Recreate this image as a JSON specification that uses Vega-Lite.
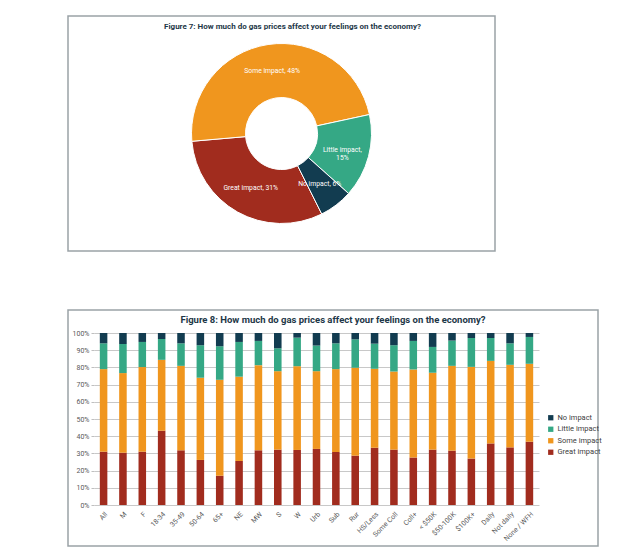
{
  "$schema": "https://vega.github.io/schema/vega-lite/v6.json",
  "background": "white",
  "padding": {"left": 67, "top": 15, "right": 0, "bottom": 0},
  "spacing": 57,
  "resolve": {"scale": {"color": "independent"}, "legend": {"color": "independent"}},
  "datasets": {
    "impacts": [
      {"impact": "Great impact", "rank": 1},
      {"impact": "Some impact", "rank": 2},
      {"impact": "Little impact", "rank": 3},
      {"impact": "No impact", "rank": 4}
    ]
  },
  "config": {
    "font": "Roboto, sans-serif",
    "view": {"stroke": "#9aa2a6", "strokeWidth": 1.5},
    "title": {"color": "#1d3747", "fontWeight": "bold", "anchor": "middle", "baseline": "bottom"}
  },
  "vconcat": [
    {
      "width": 427,
      "height": 235,
      "view": {"stroke": "#9aa2a6", "strokeWidth": 1.5},
      "title": {"text": "Figure 7: How much do gas prices affect your feelings on the economy?", "fontSize": 8, "offset": -15, "dx": 11},
      "data": {"values": [
        {"impact": "Great impact", "rank": 1, "pct": 31, "label": "Great impact, 31%"},
        {"impact": "Some impact", "rank": 2, "pct": 48, "label": "Some impact, 48%"},
        {"impact": "Little impact", "rank": 3, "pct": 15, "label": "Little impact,\n15%"},
        {"impact": "No impact", "rank": 4, "pct": 6, "label": "No impact, 6%"}
      ]},
      "encoding": {
        "theta": {"field": "pct", "type": "quantitative", "stack": true, "scale": {"range": [2.678, 8.961]}},
        "order": {"field": "rank", "type": "quantitative", "sort": "ascending"},
        "color": {"field": "impact", "type": "nominal", "legend": null,
          "scale": {"domain": ["Great impact", "Some impact", "Little impact", "No impact"], "range": ["#a12c1e", "#f0961e", "#35a885", "#123c50"]}}
      },
      "layer": [
        {"mark": {"type": "arc", "outerRadius": 90, "innerRadius": 36, "stroke": "white", "strokeWidth": 1}},
        {"mark": {"type": "text", "radius": 63, "color": "white", "fontSize": 6.8, "lineBreak": "\n", "align": "center", "baseline": "middle"},
         "encoding": {"text": {"field": "label"}, "color": {"value": "white"}}}
      ]
    },
    {
      "width": 530,
      "height": 236,
      "title": {"text": "Figure 8: How much do gas prices affect your feelings on the economy?", "fontSize": 9.5, "offset": -14},
      "data": {"values": [
        {"group": "All", "Great impact": 31, "Some impact": 48, "Little impact": 15, "No impact": 6},
        {"group": "M", "Great impact": 30.4, "Some impact": 46.3, "Little impact": 16.9, "No impact": 6.4},
        {"group": "F", "Great impact": 31.0, "Some impact": 49.2, "Little impact": 14.6, "No impact": 5.2},
        {"group": "18-34", "Great impact": 43.2, "Some impact": 41.2, "Little impact": 12.1, "No impact": 3.5},
        {"group": "35-49", "Great impact": 31.8, "Some impact": 49.1, "Little impact": 13.1, "No impact": 6.0},
        {"group": "50-64", "Great impact": 26.2, "Some impact": 47.8, "Little impact": 18.9, "No impact": 7.1},
        {"group": "65+", "Great impact": 17.0, "Some impact": 55.8, "Little impact": 19.5, "No impact": 7.7},
        {"group": "NE", "Great impact": 25.6, "Some impact": 49.0, "Little impact": 20.2, "No impact": 5.2},
        {"group": "MW", "Great impact": 31.8, "Some impact": 49.5, "Little impact": 14.1, "No impact": 4.6},
        {"group": "S", "Great impact": 32.2, "Some impact": 45.6, "Little impact": 13.3, "No impact": 8.9},
        {"group": "W", "Great impact": 32.0, "Some impact": 48.7, "Little impact": 16.6, "No impact": 2.7},
        {"group": "Urb", "Great impact": 32.6, "Some impact": 45.2, "Little impact": 14.9, "No impact": 7.3},
        {"group": "Sub", "Great impact": 30.8, "Some impact": 48.2, "Little impact": 15.0, "No impact": 6.0},
        {"group": "Rur", "Great impact": 28.7, "Some impact": 51.1, "Little impact": 16.5, "No impact": 3.7},
        {"group": "HS/Less", "Great impact": 33.3, "Some impact": 45.9, "Little impact": 14.6, "No impact": 6.2},
        {"group": "Some Coll", "Great impact": 32.2, "Some impact": 45.4, "Little impact": 15.3, "No impact": 7.1},
        {"group": "Coll+", "Great impact": 27.6, "Some impact": 51.2, "Little impact": 16.6, "No impact": 4.6},
        {"group": "< $50K", "Great impact": 32.2, "Some impact": 44.7, "Little impact": 15.0, "No impact": 8.1},
        {"group": "$50-100K", "Great impact": 31.6, "Some impact": 49.3, "Little impact": 14.7, "No impact": 4.4},
        {"group": "$100K+", "Great impact": 27.0, "Some impact": 53.3, "Little impact": 16.8, "No impact": 2.9},
        {"group": "Daily", "Great impact": 35.8, "Some impact": 48.0, "Little impact": 13.3, "No impact": 2.9},
        {"group": "Not daily", "Great impact": 33.5, "Some impact": 48.0, "Little impact": 12.5, "No impact": 6.0},
        {"group": "None / WFH", "Great impact": 36.8, "Some impact": 45.3, "Little impact": 15.6, "No impact": 2.3}
      ]},
      "transform": [
        {"fold": ["Great impact", "Some impact", "Little impact", "No impact"], "as": ["impact", "pct"]},
        {"lookup": "impact", "from": {"data": {"name": "impacts"}, "key": "impact", "fields": ["rank"]}}
      ],
      "mark": {"type": "bar"},
      "encoding": {
        "x": {"field": "group", "type": "nominal", "sort": null,
          "scale": {"range": [26, 471], "paddingInner": 0.61, "paddingOuter": 0.3},
          "axis": {"title": null, "labelAngle": -45, "labelAlign": "right", "labelBaseline": "top", "labelFontSize": 7, "labelColor": "#595959", "ticks": false, "domain": false, "labelPadding": 5, "offset": -41, "grid": false}},
        "y": {"field": "pct", "type": "quantitative", "stack": "normalize",
          "scale": {"range": [195, 23], "domain": [0, 1]},
          "axis": {"title": null, "format": ".0%", "values": [0, 0.1, 0.2, 0.3, 0.4, 0.5, 0.6, 0.7, 0.8, 0.9, 1], "labelFontSize": 7, "labelColor": "#595959", "domain": false, "ticks": true, "tickSize": 3, "tickColor": "#bfbfbf", "labelPadding": 2, "offset": -26, "grid": true, "gridColor": "#c8c8c8", "gridWidth": 1}},
        "order": {"field": "rank", "type": "quantitative", "sort": "ascending"},
        "color": {"field": "impact", "type": "nominal",
          "sort": ["No impact", "Little impact", "Some impact", "Great impact"],
          "scale": {"range": ["#123c50", "#35a885", "#f0961e", "#a12c1e"]},
          "legend": {"title": null, "orient": "none", "legendX": 479, "legendY": 104, "symbolType": "square", "symbolSize": 28, "symbolStrokeWidth": 0, "labelFontSize": 7.5, "labelColor": "#404040", "rowPadding": 2.5, "labelOffset": 3}}
      }
    }
  ]
}
